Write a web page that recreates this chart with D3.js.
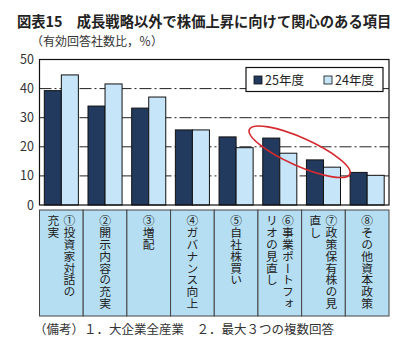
<!DOCTYPE html>
<html lang="ja">
<head>
<meta charset="UTF-8">
<title>図表15</title>
<script src="https://d3js.org/d3.v7.min.js"></script>
<style>
    body { margin: 0; background: #fff; }
    svg { font-family: "Noto Sans CJK JP", sans-serif; }
</style>
</head>
<body>
<div id="chart"></div>
<script>
    // data
    const categories = ["c1", "c2", "c3", "c4", "c5", "c6", "c7", "c8"];
    const labelColumns = [
        ["①投資家対話の", "充実"],
        ["②開示内容の充実"],
        ["③増配"],
        ["④ガバナンス向上"],
        ["⑤自社株買い"],
        ["⑥事業ポートフォ", "リオの見直し"],
        ["⑦政策保有株の見", "直し"],
        ["⑧その他資本政策"]
    ];
    const fy25 = [39.3, 34.0, 33.3, 25.8, 23.4, 23.0, 15.5, 11.2];
    const fy24 = [44.7, 41.6, 37.1, 25.8, 19.7, 17.8, 13.0, 10.2];
    const seriesNames = ["25年度", "24年度"];
    const yTicks = [0, 10, 20, 30, 40, 50];

    const width = 408, height = 351;
    const margin = {top: 59.5, right: 19, bottom: 146, left: 39.5};
    const colors = {"25年度": "#213a5e", "24年度": "#c6e5f8"};

    const svg = d3.select("#chart").append("svg")
        .attr("width", width)
        .attr("height", height);

    const x = d3.scaleBand()
        .domain(categories)
        .range([margin.left, width - margin.right])
        .paddingInner(0.22)
        .paddingOuter(0.11);

    const xs = d3.scaleBand()
        .domain(seriesNames)
        .range([0, x.bandwidth()]);

    const y = d3.scaleLinear()
        .domain([0, 50])
        .range([height - margin.bottom, margin.top]);

    // title
    svg.append("text")
        .attr("x", 17)
        .attr("y", 27)
        .attr("font-size", "14.3px")
        .attr("font-weight", "bold")
        .attr("fill", "#222")
        .text("図表15　成長戦略以外で株価上昇に向けて関心のある項目");

    svg.append("text")
        .attr("x", 31)
        .attr("y", 46)
        .attr("font-size", "12px")
        .attr("fill", "#333")
        .text("（有効回答社数比，％）");

    // grid lines
    svg.append("g")
        .selectAll("line")
        .data(yTicks.filter(d => d > 0 && d < 50))
        .join("line")
        .attr("x1", margin.left)
        .attr("x2", width - margin.right)
        .attr("y1", d => y(d))
        .attr("y2", d => y(d))
        .attr("stroke", "#222")
        .attr("stroke-width", 1)
        .attr("stroke-dasharray", "12,3,2,3");

    // y axis labels
    svg.append("g")
        .selectAll("text")
        .data(yTicks)
        .join("text")
        .attr("x", 34)
        .attr("y", d => y(d) + 4.5)
        .attr("text-anchor", "end")
        .attr("font-size", "12.5px")
        .attr("fill", "#333")
        .text(d => d);

    // bars
    const groups = svg.append("g")
        .selectAll("g")
        .data(categories)
        .join("g")
        .attr("transform", d => `translate(${x(d)},0)`);

    groups.selectAll("rect")
        .data((d, i) => [
            {name: "25年度", value: fy25[i]},
            {name: "24年度", value: fy24[i]}
        ])
        .join("rect")
        .attr("x", d => xs(d.name))
        .attr("y", d => y(d.value))
        .attr("width", xs.bandwidth())
        .attr("height", d => y(0) - y(d.value))
        .attr("fill", d => colors[d.name])
        .attr("stroke", "#111")
        .attr("stroke-width", 1);

    // plot frame
    svg.append("rect")
        .attr("x", margin.left)
        .attr("y", y(50))
        .attr("width", width - margin.right - margin.left)
        .attr("height", y(0) - y(50))
        .attr("fill", "none")
        .attr("stroke", "#111")
        .attr("stroke-width", 1.2);

    // red ellipse highlight around items 6 and 7
    const ecx = (x("c6") + x("c7") + x.bandwidth()) / 2 - 2;
    const ecy = y(18.3);
    svg.append("ellipse")
        .attr("cx", ecx)
        .attr("cy", ecy)
        .attr("rx", 55)
        .attr("ry", 14)
        .attr("transform", `rotate(24 ${ecx} ${ecy})`)
        .attr("fill", "none")
        .attr("stroke", "#d42a30")
        .attr("stroke-width", 1.6);

    // legend
    const legend = svg.append("g").attr("transform", "translate(246,67.5)");
    legend.append("rect")
        .attr("width", 137).attr("height", 24)
        .attr("fill", "#fff").attr("stroke", "#111").attr("stroke-width", 1.2);
    seriesNames.forEach((name, i) => {
        legend.append("rect")
            .attr("x", 8 + i * 70).attr("y", 8.5)
            .attr("width", 8).attr("height", 8)
            .attr("fill", colors[name]).attr("stroke", "#111").attr("stroke-width", 0.8);
        legend.append("text")
            .attr("x", 19 + i * 70).attr("y", 17.5)
            .attr("font-size", "12.5px")
            .attr("fill", "#222")
            .text(name);
    });

    // category label boxes
    const boxTop = 210, boxBottom = 316;
    const step = x.step();
    const cellX = d => x(d) - step * x.paddingInner() / 2;
    const cells = svg.append("g");
    cells.selectAll("rect")
        .data(categories)
        .join("rect")
        .attr("x", d => Math.max(margin.left, cellX(d)))
        .attr("y", boxTop)
        .attr("width", (d, i) => {
            const left = Math.max(margin.left, cellX(d));
            const right = Math.min(width - margin.right, cellX(d) + step);
            return right - left;
        })
        .attr("height", boxBottom - boxTop)
        .attr("fill", "#b5def2")
        .attr("stroke", "#444")
        .attr("stroke-width", 1);

    categories.forEach((c, i) => {
        const cols = labelColumns[i];
        const cx = x(c) + x.bandwidth() / 2;
        cols.forEach((t, j) => {
            const colX = cols.length === 1 ? cx : cx + (j === 0 ? 8 : -8);
            svg.append("text")
                .attr("x", colX)
                .attr("y", boxTop + 5)
                .style("writing-mode", "vertical-rl")
                .attr("font-size", "11.8px")
                .attr("fill", "#222")
                .text(t);
        });
    });

    // footnote
    svg.append("text")
        .attr("x", 34)
        .attr("y", 334)
        .attr("font-size", "12.5px")
        .attr("fill", "#333")
        .text("（備考）１．大企業全産業　２．最大３つの複数回答");
</script>
</body>
</html>
